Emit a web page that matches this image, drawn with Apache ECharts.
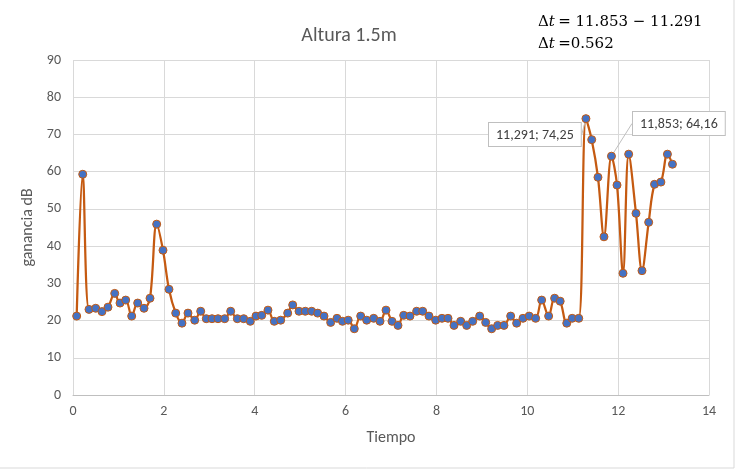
<!DOCTYPE html>
<html>
<head>
<meta charset="utf-8">
<script src="https://cdn.jsdelivr.net/npm/echarts@6/dist/echarts.min.js"></script>
<style>html,body{margin:0;padding:0;background:#fff}#c{width:735px;height:471px}</style>
</head>
<body>
<div id="c"></div>
<script>
var tiempo = [0.081,0.214,0.352,0.500,0.638,0.770,0.918,1.035,1.160,1.292,1.424,1.563,1.695,1.842,1.981,2.113,2.261,2.399,2.531,2.679,2.811,2.934,3.060,3.192,3.339,3.471,3.617,3.757,3.903,4.028,4.154,4.292,4.431,4.572,4.726,4.836,4.975,5.113,5.254,5.386,5.525,5.672,5.811,5.932,6.058,6.192,6.333,6.465,6.619,6.758,6.890,7.022,7.154,7.279,7.418,7.565,7.698,7.836,7.984,8.122,8.255,8.387,8.534,8.666,8.798,8.952,9.084,9.216,9.348,9.487,9.634,9.766,9.905,10.041,10.184,10.316,10.470,10.602,10.724,10.869,10.988,11.133,11.291,11.418,11.556,11.688,11.853,11.975,12.107,12.232,12.393,12.525,12.672,12.801,12.941,13.085,13.195];
var ganancia = [21.2,59.3,23.0,23.3,22.4,23.6,27.3,24.7,25.5,21.2,24.7,23.3,26.0,45.9,38.9,28.4,22.0,19.3,22.0,20.1,22.5,20.5,20.5,20.5,20.5,22.5,20.5,20.5,19.8,21.2,21.4,22.8,19.8,20.1,22.0,24.2,22.5,22.5,22.5,22.0,21.2,19.5,20.6,19.8,20.1,17.8,21.2,20.1,20.6,19.8,22.8,19.8,18.7,21.4,21.2,22.5,22.5,21.2,20.1,20.6,20.6,18.7,19.8,18.7,19.8,21.2,19.5,17.8,18.7,18.7,21.2,19.3,20.6,21.2,20.6,25.5,21.2,26.0,25.2,19.3,20.6,20.6,74.25,68.6,58.5,42.5,64.16,56.4,32.7,64.7,48.8,33.4,46.4,56.6,57.2,64.7,62.0];
var xTicks = [0,2,4,6,8,10,12,14];
var yTicks = [0,10,20,30,40,50,60,70,80,90];
var titleText = 'Altura 1.5m';
var xName = 'Tiempo';
var yName = 'ganancia dB';
var annotated = [
  {t: 11.291, text: '11,291; 74,25'},
  {t: 11.853, text: '11,853; 64,16'}
];

var font = 'Carlito, Lato, "Liberation Sans", sans-serif';
var mathFont = '"DejaVu Serif", "Liberation Serif", serif';
var annIdx = annotated.map(function(a){ return tiempo.indexOf(a.t); });

var data = tiempo.map(function(t, i){
  var item = {value: [t, ganancia[i]]};
  var k = annIdx.indexOf(i);
  if (k >= 0) {
    item.label = {
      show: true,
      formatter: annotated[k].text,
      color: '#404040',
      fontFamily: font,
      fontSize: 14,
      backgroundColor: '#fff',
      borderColor: '#bfbfbf',
      borderWidth: 1,
      padding: [5, 7, 4, 7]
    };
    item.labelLine = {show: true, lineStyle: {color: '#bfbfbf', width: 1}};
  }
  return item;
});

var rich = {
  d: {fontFamily: mathFont, fontSize: 15, fill: '#000'},
  t: {fontFamily: mathFont, fontSize: 15, fontStyle: 'italic', fill: '#000'}
};

var chart = echarts.init(document.getElementById('c'), null, {renderer: 'canvas'});
chart.setOption({
  animation: false,
  backgroundColor: '#fff',
  title: {
    text: titleText,
    left: 344, top: 21, textAlign: 'center',
    textStyle: {color: '#595959', fontFamily: font, fontSize: 20, fontWeight: 'normal'}
  },
  graphic: [
    {type: 'text', left: 538, top: 15, style: {text: '{d|Δ}{t|t} {d|= 11.853 − 11.291}', rich: rich}},
    {type: 'text', left: 538, top: 37, style: {text: '{d|Δ}{t|t} {d|=0.562}', rich: rich}},
    {type: 'rect', shape: {x: -1, y: -1, width: 735, height: 469}, style: {fill: 'none', stroke: '#d9d9d9', lineWidth: 1}, silent: true}
  ],
  grid: {left: 73, right: 26, top: 60, bottom: 76, containLabel: false},
  xAxis: {
    type: 'value', min: xTicks[0], max: xTicks[xTicks.length-1], interval: 2,
    name: xName, nameLocation: 'middle', nameGap: 35,
    nameTextStyle: {color: '#595959', fontFamily: font, fontSize: 16},
    axisLine: {show: true, lineStyle: {color: '#bfbfbf'}},
    axisTick: {show: false},
    axisLabel: {color: '#595959', fontFamily: font, fontSize: 14, margin: 9},
    splitLine: {show: true, lineStyle: {color: '#d9d9d9'}}
  },
  yAxis: {
    type: 'value', min: yTicks[0], max: yTicks[yTicks.length-1], interval: 10,
    name: yName, nameLocation: 'middle', nameGap: 36, nameRotate: 90,
    nameTextStyle: {color: '#595959', fontFamily: font, fontSize: 16},
    axisLine: {show: false},
    axisTick: {show: false},
    axisLabel: {color: '#595959', fontFamily: font, fontSize: 14, margin: 12},
    splitLine: {show: true, lineStyle: {color: '#d9d9d9'}}
  },
  series: [{
    type: 'line',
    data: data,
    smooth: 0.35,
    lineStyle: {color: '#c55a11', width: 2.25},
    symbol: 'circle',
    symbolSize: 8,
    itemStyle: {color: '#4472c4', borderColor: '#c55a11', borderWidth: 1},
    label: {show: false},
    labelLayout: function(p){
      var k = annIdx.indexOf(p.dataIndex);
      if (k === 0) return {x: 489, y: 123, align: 'left', verticalAlign: 'top'};
      if (k === 1) return {x: 633, y: 112, align: 'left', verticalAlign: 'top'};
      return {};
    },
    z: 3
  }]
});
</script>
</body>
</html>
